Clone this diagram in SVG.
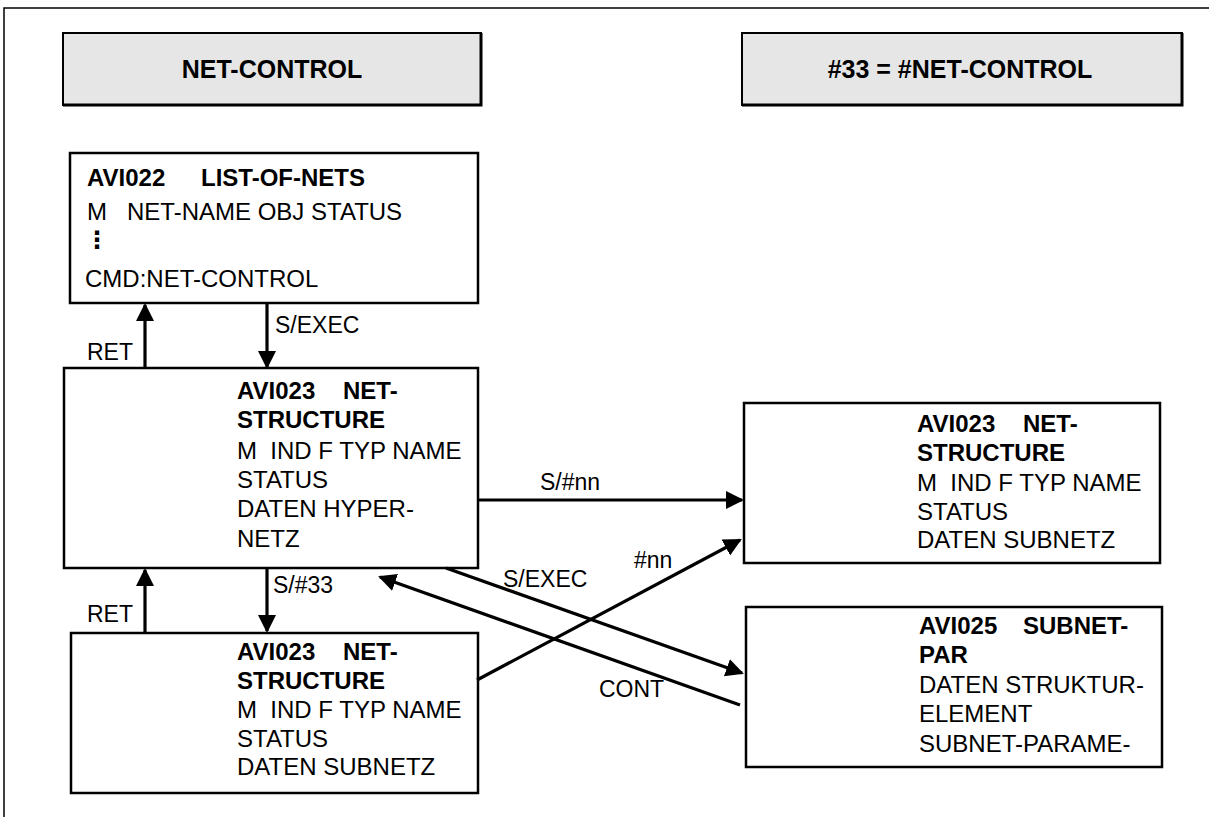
<svg xmlns="http://www.w3.org/2000/svg" width="1209" height="817" viewBox="0 0 1209 817">
<style>
text{font-family:"Liberation Sans",Arial,"DejaVu Sans",sans-serif;font-size:24px;fill:#000;white-space:pre}
.b{font-weight:bold}
.lb{font-size:23px}
.hd{font-weight:bold;font-size:25px;text-anchor:middle}
.box{fill:#fff;stroke:#000;stroke-width:2.5}
.hbox{fill:#e6e6e6;stroke:#000;stroke-width:2}
.sh{stroke:#000;stroke-width:3;fill:none}
.frame{stroke:#000;stroke-width:1.5;fill:none}
.con{stroke:#000;stroke-width:3.2;fill:none;marker-end:url(#ah)}
</style>
<defs>
<marker id="ah" markerUnits="userSpaceOnUse" markerWidth="20" markerHeight="20" refX="16" refY="9" orient="auto">
<path d="M0,0 L18,9 L0,18 z" fill="#000"/>
</marker>
</defs>
<path class="frame" d="M4,817 V8 H1209"/>
<g id="hdr1">
<rect class="hbox" x="63" y="33" width="418" height="72"/>
<path class="sh" d="M481,33 V105 H63"/>
<text class="hd" x="272" y="78">NET-CONTROL</text>
</g>
<g id="hdr2">
<rect class="hbox" x="742" y="33" width="440" height="72"/>
<path class="sh" d="M1182,33 V105 H742"/>
<text class="hd" x="960" y="78">#33 = #NET-CONTROL</text>
</g>
<g id="avi022">
<rect class="box" x="70" y="153" width="408" height="150"/>
<text class="b" x="87" y="186">AVI022 <tspan x="201">LIST-OF-NETS</tspan></text>
<text x="87" y="220">M   NET-NAME OBJ STATUS</text>
<text class="b" x="85" y="248">⋮</text>
<text x="85" y="287">CMD:NET-CONTROL</text>
</g>
<g id="avi023a">
<rect class="box" x="64" y="368" width="414" height="200"/>
<text class="b" x="237" y="399">AVI023 <tspan x="343">NET-</tspan></text>
<text class="b" x="237" y="428">STRUCTURE</text>
<text x="237" y="459">M  IND F TYP NAME</text>
<text x="237" y="488">STATUS</text>
<text x="237" y="517">DATEN HYPER-</text>
<text x="237" y="547">NETZ</text>
</g>
<g id="avi023b">
<rect class="box" x="71" y="633" width="407" height="160"/>
<text class="b" x="237" y="660">AVI023 <tspan x="343">NET-</tspan></text>
<text class="b" x="237" y="689">STRUCTURE</text>
<text x="237" y="718">M  IND F TYP NAME</text>
<text x="237" y="747">STATUS</text>
<text x="237" y="775">DATEN SUBNETZ</text>
</g>
<g id="avi023c">
<rect class="box" x="744" y="403" width="416" height="160"/>
<text class="b" x="917" y="432">AVI023 <tspan x="1023">NET-</tspan></text>
<text class="b" x="917" y="461">STRUCTURE</text>
<text x="917" y="491">M  IND F TYP NAME</text>
<text x="917" y="520">STATUS</text>
<text x="917" y="548">DATEN SUBNETZ</text>
</g>
<g id="avi025">
<rect class="box" x="746" y="607" width="416" height="160"/>
<text class="b" x="919" y="634">AVI025 <tspan x="1023">SUBNET-</tspan></text>
<text class="b" x="919" y="663">PAR</text>
<text x="919" y="693">DATEN STRUKTUR-</text>
<text x="919" y="722">ELEMENT</text>
<text x="919" y="752">SUBNET-PARAME-</text>
</g>
<g id="connectors">
<line class="con" x1="145" y1="368" x2="145" y2="305"/>
<line class="con" x1="267" y1="303" x2="267" y2="367"/>
<line class="con" x1="145" y1="633" x2="145" y2="570"/>
<line class="con" x1="267" y1="568" x2="267" y2="631"/>
<line class="con" x1="479" y1="500" x2="742" y2="500"/>
<line class="con" x1="477" y1="680" x2="740" y2="540"/>
<line class="con" x1="446" y1="568" x2="742" y2="673"/>
<line class="con" x1="740" y1="705" x2="380" y2="577"/>
<text class="lb" x="275" y="333">S/EXEC</text>
<text class="lb" x="87" y="360">RET</text>
<text class="lb" x="273" y="593">S/#33</text>
<text class="lb" x="87" y="622">RET</text>
<text class="lb" x="540" y="490">S/#nn</text>
<text class="lb" x="634" y="568">#nn</text>
<text class="lb" x="503" y="587">S/EXEC</text>
<text class="lb" x="599" y="697">CONT</text>
</g>
</svg>
